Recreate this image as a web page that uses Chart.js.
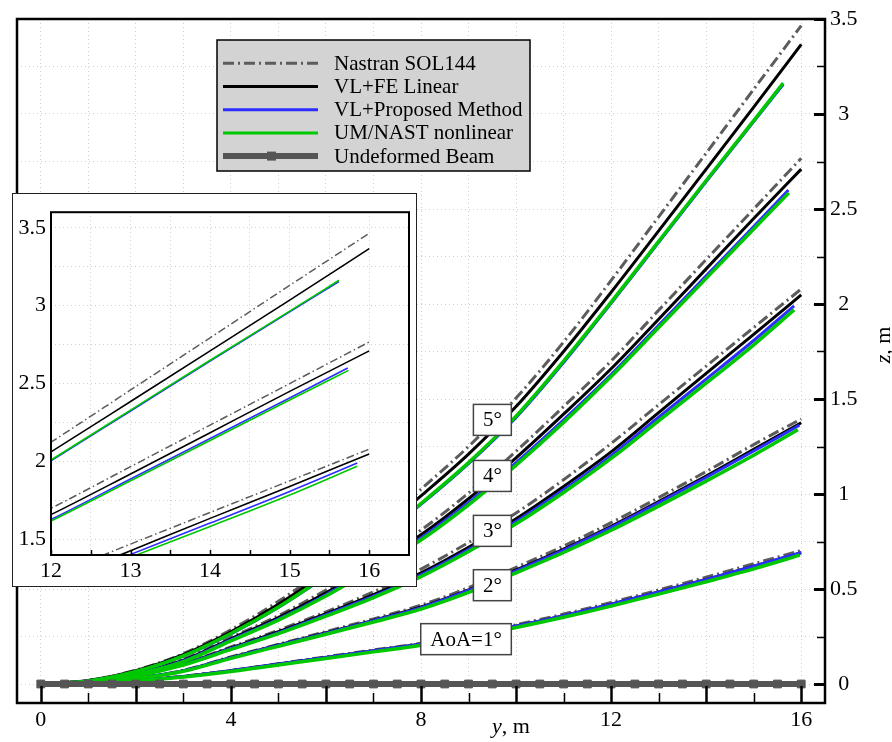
<!DOCTYPE html>
<html lang="en">
<head>
<meta charset="UTF-8">
<title>Wing deflection z vs span y</title>
<script src="https://cdn.jsdelivr.net/npm/chart.js"></script>
<style>
  body { margin: 0; background: #fff; }
  .wrap { position: relative; width: 892px; height: 742px; }
  #mainChart { position: absolute; left: 0; top: 0; }
  .inset {
    position: absolute; left: 12px; top: 193px;
    width: 403px; height: 392px;
    background: #fff; border: 1px solid #222;
  }
  #insetChart { display: block; }
</style>
</head>
<body>
<div class="wrap">
  <canvas id="mainChart" width="892" height="742"></canvas>
  <div class="inset"><canvas id="insetChart" width="403" height="392"></canvas></div>
</div>
<script>
// ---- data (y = span, z = vertical deflection, metres) ----
const span = [0, 1, 2, 3, 4, 5, 6, 7, 8, 9, 10, 11, 12, 13, 14, 15, 16];

// AoA = 1 deg
const sol144_1   = [0, .004, .018, .041, .071, .107, .143, .179, .215, .261, .312, .368, .429, .495, .562, .633, .703];
const linear_1   = [0, .004, .018, .040, .070, .105, .140, .175, .210, .255, .305, .360, .420, .485, .550, .620, .690];
const proposed_1 = [0, .004, .018, .040, .070, .105, .140, .175, .210, .255, .305, .360, .420, .484, .550, .620, .693];
const umnast_1   = [0, .003, .016, .037, .066, .100, .134, .169, .204, .248, .297, .351, .410, .473, .538, .606, .678];
// AoA = 2 deg
const sol144_2   = [0, .007, .031, .072, .143, .209, .276, .343, .415, .507, .614, .726, .849, .981, 1.118, 1.260, 1.395];
const linear_2   = [0, .007, .030, .070, .140, .205, .270, .335, .405, .495, .600, .710, .830, .960, 1.095, 1.235, 1.375];
const proposed_2 = [0, .007, .030, .070, .139, .204, .268, .333, .402, .492, .596, .705, .824, .953, 1.087, 1.226, 1.362];
const umnast_2   = [0, .006, .028, .067, .135, .199, .262, .326, .394, .482, .585, .692, .809, .936, 1.068, 1.204, 1.338];
// AoA = 3 deg
const sol144_3   = [0, .011, .047, .108, .195, .283, .380, .485, .605, .745, .900, 1.075, 1.266, 1.470, 1.673, 1.876, 2.079];
const linear_3   = [0, .010, .045, .105, .190, .275, .370, .470, .585, .720, .870, 1.040, 1.222, 1.428, 1.635, 1.840, 2.048];
const proposed_3 = [0, .010, .044, .103, .187, .270, .364, .462, .575, .708, .855, 1.022, 1.202, 1.404, 1.605, 1.808, 1.990];
const umnast_3   = [0, .009, .042, .100, .182, .265, .357, .455, .565, .697, .843, 1.008, 1.187, 1.385, 1.583, 1.785, 1.969];
// AoA = 4 deg
const sol144_4   = [0, .015, .057, .130, .245, .360, .495, .650, .810, 1.005, 1.225, 1.460, 1.700, 1.967, 2.234, 2.500, 2.767];
const linear_4   = [0, .014, .055, .125, .238, .350, .480, .630, .785, .975, 1.190, 1.420, 1.659, 1.920, 2.185, 2.450, 2.710];
const proposed_4 = [0, .013, .053, .121, .232, .342, .470, .617, .769, .955, 1.165, 1.390, 1.628, 1.888, 2.148, 2.408, 2.600];
const umnast_4   = [0, .012, .051, .118, .227, .336, .463, .608, .758, .943, 1.152, 1.377, 1.618, 1.876, 2.135, 2.395, 2.585];
// AoA = 5 deg
const sol144_5   = [0, .019, .073, .160, .285, .435, .610, .805, 1.025, 1.250, 1.505, 1.800, 2.124, 2.459, 2.794, 3.130, 3.465];
const linear_5   = [0, .018, .070, .155, .275, .420, .590, .780, .990, 1.210, 1.460, 1.750, 2.062, 2.385, 2.710, 3.036, 3.366];
const proposed_5 = [0, .016, .065, .147, .264, .403, .567, .747, .945, 1.160, 1.403, 1.692, 2.004, 2.324, 2.644, 2.960, 3.155];
const umnast_5   = [0, .016, .066, .148, .266, .405, .570, .750, .950, 1.165, 1.410, 1.700, 2.010, 2.330, 2.650, 2.965, 3.163];

// nonlinear solutions end short of the 16 m span (tip position, AoA 1..5)
const proposedTip = [16.0, 15.96, 15.85, 15.73, 15.62];
const umnastTip   = [15.97, 15.93, 15.85, 15.74, 15.62];

// undeformed beam
const beamSpan = [0, 0.5, 1, 1.5, 2, 2.5, 3, 3.5, 4, 4.5, 5, 5.5, 6, 6.5, 7, 7.5, 8,
                  8.5, 9, 9.5, 10, 10.5, 11, 11.5, 12, 12.5, 13, 13.5, 14, 14.5, 15, 15.5, 16];
const beamZ = [0, 0, 0, 0, 0, 0, 0, 0, 0, 0, 0, 0, 0, 0, 0, 0, 0,
               0, 0, 0, 0, 0, 0, 0, 0, 0, 0, 0, 0, 0, 0, 0, 0];

// axes
const xGrid = [0, 1, 2, 3, 4, 5, 6, 7, 8, 9, 10, 11, 12, 13, 14, 15, 16];
const xTickLabels = [0, 4, 8, 12, 16];
const xMajorTicks = [0, 2, 4, 6, 8, 10, 12, 14, 16];
const xMinorTicks = [1, 3, 5, 7, 9, 11, 13, 15];
const zGrid = [0, 0.25, 0.5, 0.75, 1, 1.25, 1.5, 1.75, 2, 2.25, 2.5, 2.75, 3, 3.25, 3.5];
const zTickLabels = [0, 0.5, 1, 1.5, 2, 2.5, 3, 3.5];
const zMinorTicks = [0.25, 0.75, 1.25, 1.75, 2.25, 2.75, 3.25];

const insetXGrid = [12, 12.5, 13, 13.5, 14, 14.5, 15, 15.5, 16];
const insetXLabels = [12, 13, 14, 15, 16];
const insetZGrid = [1.5, 1.75, 2, 2.25, 2.5, 2.75, 3, 3.25, 3.5];
const insetZLabels = [1.5, 2, 2.5, 3, 3.5];

const seriesNames = ['Nastran SOL144', 'VL+FE Linear', 'VL+Proposed Method', 'UM/NAST nonlinear', 'Undeformed Beam'];
const aoaLabels = ['AoA=1°', '2°', '3°', '4°', '5°'];

// ---- helpers ----
const SERIF = "'Liberation Serif', 'Times New Roman', serif";
Chart.defaults.font.family = SERIF;
Chart.defaults.font.size = 22;
Chart.defaults.color = '#000';
Chart.defaults.animation = false;

const COL = { sol: '#5c5c5c', lin: '#000000', prop: '#2d2dff', um: '#00c800', beam: '#555555' };

const pts = (xs, ys) => ys.map((v, i) => ({ x: xs[i], y: v }));
const withTip = tip => span.map((v, i) => (i === span.length - 1 ? tip : v));

const sol = [sol144_1, sol144_2, sol144_3, sol144_4, sol144_5];
const lin = [linear_1, linear_2, linear_3, linear_4, linear_5];
const prop = [proposed_1, proposed_2, proposed_3, proposed_4, proposed_5];
const um = [umnast_1, umnast_2, umnast_3, umnast_4, umnast_5];

function curveSets(w, dash) {
  const out = [];
  for (let k = 0; k < 5; k++) {
    const base = { showLine: true, pointRadius: 0, fill: false, cubicInterpolationMode: 'monotone' };
    out.push({ ...base, label: seriesNames[0], data: pts(span, sol[k]), borderColor: COL.sol, borderWidth: w.sol, borderDash: dash, order: 4 });
    out.push({ ...base, label: seriesNames[1], data: pts(span, lin[k]), borderColor: COL.lin, borderWidth: w.lin, order: 3 });
    out.push({ ...base, label: seriesNames[2], data: pts(withTip(proposedTip[k]), prop[k]), borderColor: COL.prop, borderWidth: w.prop, order: 2 });
    out.push({ ...base, label: seriesNames[3], data: pts(withTip(umnastTip[k]), um[k]), borderColor: COL.um, borderWidth: w.um, order: 1 });
  }
  return out;
}

// inward tick marks + frame
const frameTicks = {
  id: 'frameTicks',
  afterDatasetsDraw(chart, args, o) {
    const { ctx, chartArea: a, scales: { x, y } } = chart;
    ctx.save();
    ctx.strokeStyle = '#000';
    ctx.lineCap = 'butt';
    (o.bottom || []).forEach(t => {
      ctx.lineWidth = t.w;
      t.vals.forEach(v => {
        const px = Math.round(x.getPixelForValue(v)) + 0.5;
        ctx.beginPath(); ctx.moveTo(px, a.bottom); ctx.lineTo(px, a.bottom - t.len); ctx.stroke();
      });
    });
    (o.right || []).forEach(t => {
      ctx.lineWidth = t.w;
      t.vals.forEach(v => {
        const py = Math.round(y.getPixelForValue(v)) + 0.5;
        ctx.beginPath(); ctx.moveTo(a.right, py); ctx.lineTo(a.right - t.len, py); ctx.stroke();
      });
    });
    ctx.lineWidth = o.frame;
    ctx.strokeRect(a.left, a.top, a.right - a.left, a.bottom - a.top);
    ctx.restore();
  }
};

// legend, angle labels and axis titles of the main plot
const annotate = {
  id: 'annotate',
  afterDraw(chart) {
    const { ctx, scales: { x, y } } = chart;
    ctx.save();

    // angle-of-attack boxes, right edges lined up
    const boxRight = 9.9;
    const boxZ = [0.236, 0.52, 0.806, 1.095, 1.39];
    ctx.font = '21px ' + SERIF;
    ctx.textBaseline = 'middle';
    aoaLabels.forEach((t, i) => {
      const r = x.getPixelForValue(boxRight);
      const cy = y.getPixelForValue(boxZ[i]);
      const w = ctx.measureText(t).width + 19;
      const h = 31;
      ctx.fillStyle = '#fff';
      ctx.fillRect(r - w, cy - h / 2, w, h);
      ctx.strokeStyle = '#444';
      ctx.lineWidth = 1.5;
      ctx.strokeRect(r - w, cy - h / 2, w, h);
      ctx.fillStyle = '#000';
      ctx.textAlign = 'center';
      ctx.fillText(t, r - w / 2, cy + 1);
    });

    // legend box
    const L = { left: 217, top: 40, right: 530, bottom: 171 };
    ctx.fillStyle = '#d3d3d3';
    ctx.fillRect(L.left, L.top, L.right - L.left, L.bottom - L.top);
    ctx.strokeStyle = '#000';
    ctx.lineWidth = 1.5;
    ctx.strokeRect(L.left, L.top, L.right - L.left, L.bottom - L.top);
    const sx0 = 223, sx1 = 318, tx = 334;
    const styles = [
      { c: COL.sol, w: 3, dash: [11, 4, 2, 4] },
      { c: COL.lin, w: 3 },
      { c: COL.prop, w: 3 },
      { c: COL.um, w: 3 },
      { c: COL.beam, w: 6, marker: true }
    ];
    ctx.textAlign = 'left';
    seriesNames.forEach((n, i) => {
      const ry = 63.3 + i * 23.2;
      const s = styles[i];
      ctx.strokeStyle = s.c;
      ctx.lineWidth = s.w;
      ctx.setLineDash(s.dash || []);
      ctx.beginPath(); ctx.moveTo(sx0, ry); ctx.lineTo(sx1, ry); ctx.stroke();
      ctx.setLineDash([]);
      if (s.marker) { ctx.fillStyle = s.c; ctx.fillRect(267, ry - 4.5, 9, 9); }
      ctx.fillStyle = '#000';
      ctx.fillText(n, tx, ry + 1);
    });

    // axis titles
    ctx.font = 'italic 22px ' + SERIF;
    ctx.textBaseline = 'alphabetic';
    ctx.fillText('y', 492, 733);
    const yw = ctx.measureText('y').width;
    ctx.font = '22px ' + SERIF;
    ctx.fillText(', m', 492 + yw, 733);

    ctx.translate(883, 345);
    ctx.rotate(-Math.PI / 2);
    ctx.font = 'italic 22px ' + SERIF;
    const zw = ctx.measureText('z').width;
    ctx.font = '22px ' + SERIF;
    const mw = ctx.measureText(', m').width;
    const sx = -(zw + mw) / 2;
    ctx.font = 'italic 22px ' + SERIF;
    ctx.fillText('z', sx, 7);
    ctx.font = '22px ' + SERIF;
    ctx.fillText(', m', sx + zw, 7);
    ctx.restore();
  }
};

const gridColor = '#cfcfcf';

// ---- main chart ----
const mainSets = curveSets({ sol: 3, lin: 3, prop: 3, um: 3.5 }, [11, 4, 2, 4]);
mainSets.push({
  label: seriesNames[4], data: pts(beamSpan, beamZ), showLine: true,
  borderColor: COL.beam, borderWidth: 6, pointStyle: 'rect', pointRadius: 5.5,
  pointBackgroundColor: COL.beam, pointBorderColor: COL.beam, pointBorderWidth: 1, order: 0
});

new Chart(document.getElementById('mainChart'), {
  type: 'scatter',
  data: { datasets: mainSets },
  options: {
    responsive: false,
    devicePixelRatio: 1,
    layout: { padding: { left: 17, top: 19, right: 0, bottom: 0 } },
    plugins: {
      legend: { display: false }, tooltip: { enabled: false },
      frameTicks: {
        frame: 2.5,
        bottom: [{ vals: xMajorTicks, len: 17, w: 2.5 }, { vals: xMinorTicks, len: 10, w: 1.5 }],
        right: [{ vals: zTickLabels, len: 11, w: 3 }, { vals: zMinorTicks, len: 8, w: 1.5 }]
      }
    },
    scales: {
      x: {
        type: 'linear', position: 'bottom', min: -0.5, max: 16.5,
        afterBuildTicks: ax => { ax.ticks = xGrid.map(v => ({ value: v })); },
        afterFit: s => { s.height = 39; },
        grid: { color: gridColor, lineWidth: 1, drawTicks: false },
        border: { display: false, dash: [1, 3] },
        ticks: { autoSkip: false, maxRotation: 0, padding: 4, callback: v => (xTickLabels.includes(v) ? String(v) : '') }
      },
      y: {
        type: 'linear', position: 'right', min: -0.1, max: 3.5,
        afterBuildTicks: ax => { ax.ticks = zGrid.map(v => ({ value: v })); },
        afterFit: s => { s.width = 67; },
        grid: { color: gridColor, lineWidth: 1, drawTicks: false },
        border: { display: false, dash: [1, 3] },
        ticks: { autoSkip: false, crossAlign: 'center', padding: 5, callback: v => (zTickLabels.includes(v) ? String(v) : '') }
      }
    }
  },
  plugins: [frameTicks, annotate]
});

// ---- inset (zoom on the tip, 12 m < y < 16.5 m) ----
new Chart(document.getElementById('insetChart'), {
  type: 'scatter',
  data: { datasets: curveSets({ sol: 1.5, lin: 1.6, prop: 1.6, um: 1.6 }, [8, 3, 1.5, 3]) },
  options: {
    responsive: false,
    devicePixelRatio: 1,
    layout: { padding: { left: 0, top: 7, right: 7, bottom: 0 } },
    plugins: {
      legend: { display: false }, tooltip: { enabled: false },
      frameTicks: { frame: 2, bottom: [{ vals: insetXGrid, len: 5, w: 1.5 }] }
    },
    scales: {
      x: {
        type: 'linear', position: 'bottom', min: 12, max: 16.5,
        afterBuildTicks: ax => { ax.ticks = insetXGrid.map(v => ({ value: v })); },
        afterFit: s => { s.height = 31; },
        grid: { color: gridColor, lineWidth: 1, drawTicks: false },
        border: { display: false, dash: [1, 3] },
        ticks: { autoSkip: false, maxRotation: 0, padding: 3, callback: v => (insetXLabels.includes(v) ? String(v) : '') }
      },
      y: {
        type: 'linear', position: 'left', min: 1.4, max: 3.6,
        afterBuildTicks: ax => { ax.ticks = insetZGrid.map(v => ({ value: v })); },
        afterFit: s => { s.width = 38; },
        grid: { color: gridColor, lineWidth: 1, drawTicks: false },
        border: { display: false, dash: [1, 3] },
        ticks: { autoSkip: false, padding: 5, callback: v => (insetZLabels.includes(v) ? String(v) : '') }
      }
    }
  },
  plugins: [frameTicks]
});
</script>
</body>
</html>
